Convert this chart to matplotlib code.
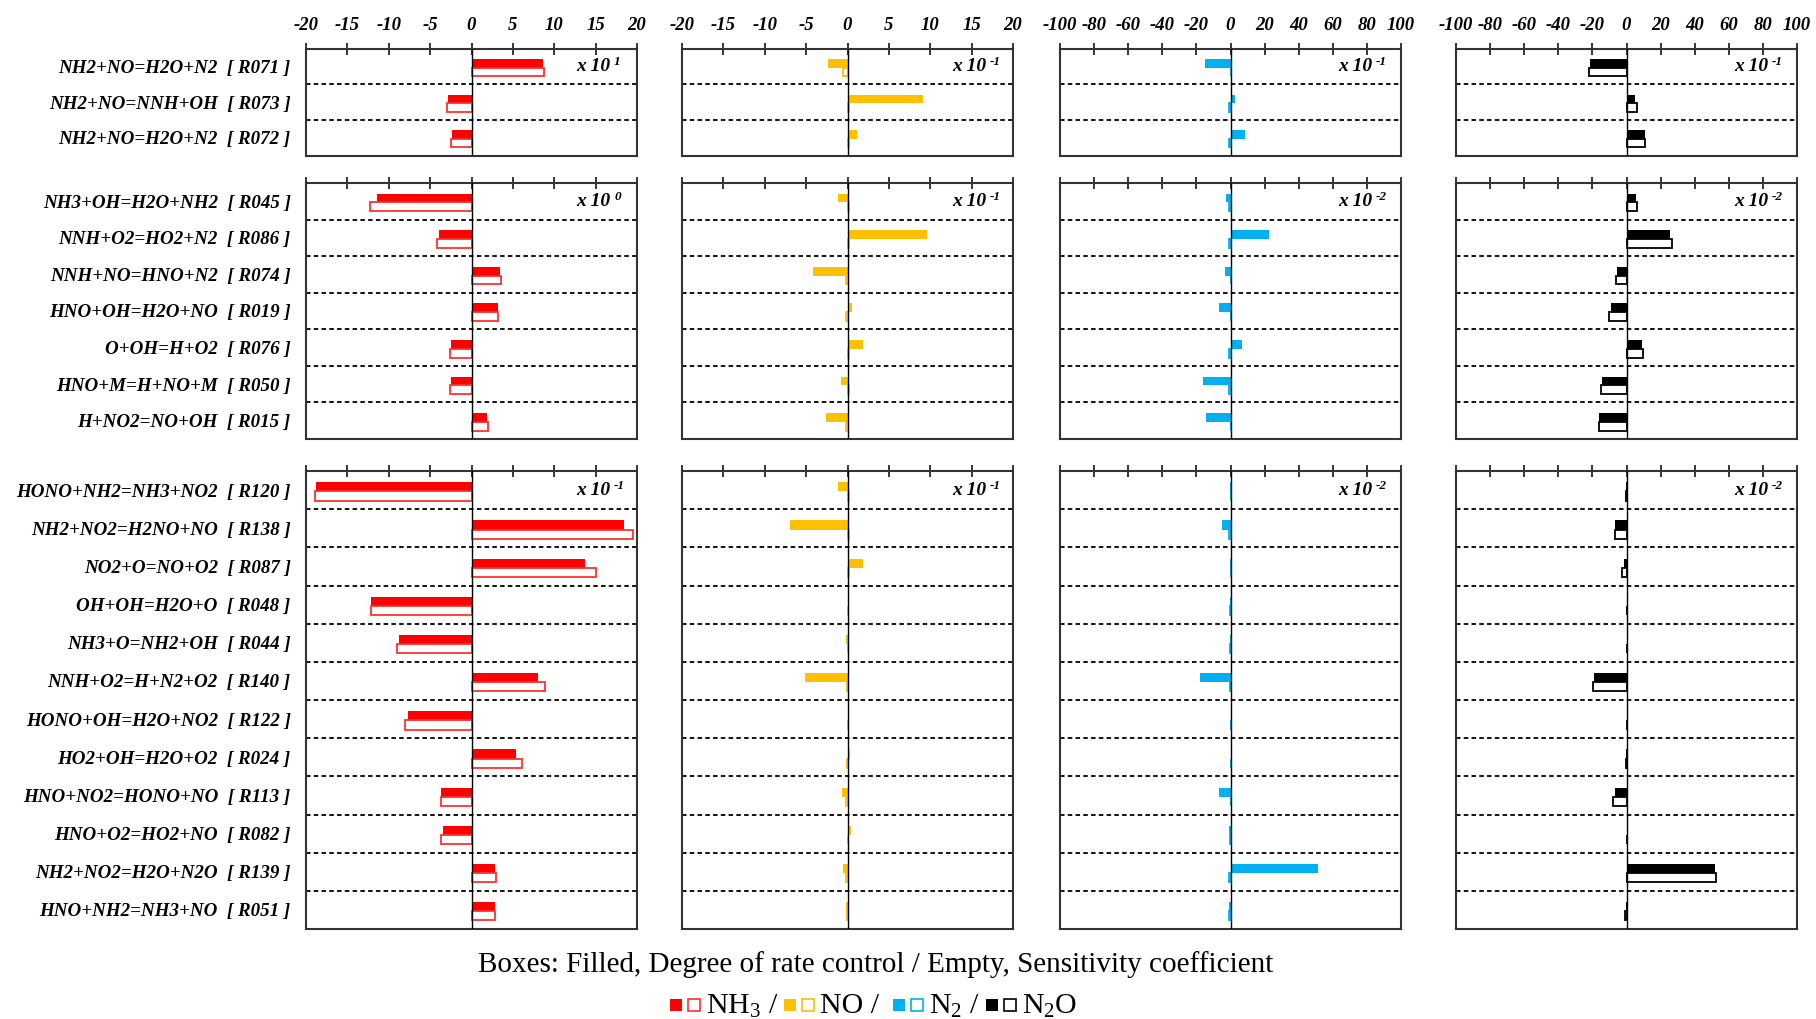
import numpy as np
import matplotlib
matplotlib.use('Agg')
import matplotlib.pyplot as plt
from matplotlib.patches import Rectangle

plt.rcParams['font.family'] = 'Liberation Serif'
plt.rcParams['axes.unicode_minus'] = False
plt.rcParams['mathtext.fontset'] = 'custom'
plt.rcParams['mathtext.rm'] = 'Liberation Serif'
plt.rcParams['mathtext.it'] = 'Liberation Serif:italic'
plt.rcParams['mathtext.bf'] = 'Liberation Serif:bold:italic'

# reactions, one list per block (top to bottom)
rxn_g1 = ['NH2+NO=H2O+N2  [ R071 ]', 'NH2+NO=NNH+OH  [ R073 ]', 'NH2+NO=H2O+N2  [ R072 ]']
rxn_g2 = ['NH3+OH=H2O+NH2  [ R045 ]', 'NNH+O2=HO2+N2  [ R086 ]', 'NNH+NO=HNO+N2  [ R074 ]',
          'HNO+OH=H2O+NO  [ R019 ]', 'O+OH=H+O2  [ R076 ]', 'HNO+M=H+NO+M  [ R050 ]',
          'H+NO2=NO+OH  [ R015 ]']
rxn_g3 = ['HONO+NH2=NH3+NO2  [ R120 ]', 'NH2+NO2=H2NO+NO  [ R138 ]', 'NO2+O=NO+O2  [ R087 ]',
          'OH+OH=H2O+O  [ R048 ]', 'NH3+O=NH2+OH  [ R044 ]', 'NNH+O2=H+N2+O2  [ R140 ]',
          'HONO+OH=H2O+NO2  [ R122 ]', 'HO2+OH=H2O+O2  [ R024 ]', 'HNO+NO2=HONO+NO  [ R113 ]',
          'HNO+O2=HO2+NO  [ R082 ]', 'NH2+NO2=H2O+N2O  [ R139 ]', 'HNO+NH2=NH3+NO  [ R051 ]']
reactions = [rxn_g1, rxn_g2, rxn_g3]

# degree of rate control (filled) and sensitivity coefficient (empty), scaled by 10^exp
nh3_drc = [[8.7, -2.8, -2.35],
           [-11.4, -3.9, 3.4, 3.2, -2.5, -2.5, 1.9],
           [-18.8, 18.4, 13.7, -12.1, -8.8, 8.0, -7.7, 5.4, -3.7, -3.4, 2.9, 2.9]]
nh3_sens = [[8.8, -3.0, -2.5],
            [-12.3, -4.2, 3.6, 3.2, -2.65, -2.65, 2.0],
            [-18.9, 19.5, 15.0, -12.2, -9.0, 8.9, -8.0, 6.1, -3.7, -3.7, 3.0, 2.9]]
no_drc = [[-2.3, 9.1, 1.2],
          [-1.2, 9.6, -4.2, 0.5, 1.9, -0.8, -2.6],
          [-1.1, -6.9, 1.9, 0.15, -0.2, -5.1, 0.15, 0.35, -0.7, 0.45, -0.5, -0.2]]
no_sens = [[-0.5, 0.15, 0.2],
           [0.15, 0.15, -0.15, -0.15, 0.15, 0.15, -0.15],
           [0.15, 0.15, 0.15, 0.1, 0.1, -0.1, 0.05, -0.1, -0.15, 0.1, -0.15, -0.1]]
n2_drc = [[-15.0, 2.8, 8.7],
          [-2.5, 22.8, -3.5, -6.6, 6.7, -16.3, -14.2],
          [-0.5, -4.9, -0.5, -0.4, -0.4, -17.6, 0.4, 0.4, -7.0, -0.6, 51.5, -0.6]]
n2_sens = [[0.3, -0.8, -0.8],
           [-0.8, -0.8, 0.5, 0.5, -0.8, -0.8, 0.5],
           [0.3, -0.8, 0.3, -0.5, -0.5, -0.5, 0.3, 0.3, 0.3, -0.5, -0.8, -0.8]]
n2o_drc = [[-21.3, 5.1, 10.7],
           [5.4, 25.8, -5.4, -9.3, 8.8, -14.2, -16.2],
           [-0.5, -6.9, -1.5, 0.3, 0.3, -18.8, 0.3, -0.3, -6.9, 0.3, 51.8, -0.5]]
n2o_sens = [[-22.0, 6.0, 10.7],
            [6.0, 26.5, -6.3, -10.2, 9.4, -14.8, -16.2],
            [-0.5, -6.9, -2.5, 0.3, 0.3, -19.6, 0.3, -0.3, -7.7, 0.3, 52.4, -0.8]]

exp_nh3 = [1, 0, -1]
exp_no = [-1, -1, -1]
exp_n2 = [-1, -2, -2]
exp_n2o = [-1, -2, -2]

species = ['NH$_3$', 'NO', 'N$_2$', 'N$_2$O']
colors = ['#FF0000', '#FFC000', '#00B0F0', '#000000']
edges = ['#FF3030', '#FFC000', '#00B0F0', '#000000']
drc_all = [nh3_drc, no_drc, n2_drc, n2o_drc]
sens_all = [nh3_sens, no_sens, n2_sens, n2o_sens]
exp_all = [exp_nh3, exp_no, exp_n2, exp_n2o]
xlims = [20, 20, 100, 100]
xsteps = [5, 5, 20, 20]

W, H = 1816, 1019
fig = plt.figure(figsize=(W / 100, H / 100), dpi=100)

col_px = [(306, 331), (682, 331), (1060, 341), (1456, 341)]
grp_px = [(48.6, 155.5), (183, 439), (471, 929)]

bw = 0.24
shift = 0.033
for g, (top, bot) in enumerate(grp_px):
    labels = reactions[g]
    n = len(labels)
    y = np.arange(n)
    for c, (left, width) in enumerate(col_px):
        ax = fig.add_axes([left / W, 1 - bot / H, width / W, (bot - top) / H])
        lim = xlims[c]
        ax.set_xlim(-lim, lim)
        ax.set_ylim(n - 0.5, -0.5)
        ax.barh(y + shift - bw / 2, drc_all[c][g], height=bw, color=colors[c], zorder=2)
        ax.barh(y + shift + bw / 2, sens_all[c][g], height=bw, facecolor='white',
                edgecolor=edges[c], linewidth=1.3, zorder=2)
        ax.axvline(0, color='black', lw=1.0, zorder=3)
        for k in range(1, n):
            ax.axhline(k - 0.5, color='black', lw=1.3, ls=(0, (2.5, 1.8)), zorder=1)
        for s in ax.spines.values():
            s.set_color('#333333')
            s.set_linewidth(1.5)

        ax.xaxis.tick_top()
        ticks = np.arange(-lim, lim + 1, xsteps[c])
        ax.set_xticks(ticks)
        ax.set_xticklabels([str(t) for t in ticks])
        ax.tick_params(axis='x', direction='inout', length=9, width=1.1,
                       top=True, bottom=False, labeltop=(g == 0), labelbottom=False,
                       labelsize=13.5, pad=6)
        for lab in ax.get_xticklabels():
            lab.set_fontstyle('italic')
            lab.set_fontweight('bold')

        if c == 0:
            ax.set_yticks(y)
            ax.set_yticklabels(labels, fontsize=13.7, fontstyle='italic', fontweight='bold')
            ax.tick_params(axis='y', length=0, pad=11)
        else:
            ax.set_yticks([])

        # scale factor in the corner of the first row
        t = ax.text(0.815, 0, 'x 10', transform=ax.get_yaxis_transform(),
                    ha='left', va='center', fontsize=14, fontstyle='italic', fontweight='bold')
        ax.annotate(str(exp_all[c][g]), xy=(1, 0.75), xycoords=t, xytext=(3, 0),
                    textcoords='offset points', ha='left', va='center',
                    fontsize=9.5, fontstyle='italic', fontweight='bold')

fig.text(0.482, 0.053, 'Boxes: Filled, Degree of rate control / Empty, Sensitivity coefficient',
         ha='center', va='center', fontsize=21)

# legend row: filled box, empty box, species name
renderer = fig.canvas.get_renderer()
x = 670.0
yc = 1005.0
for i, (name, col, ec) in enumerate(zip(species, colors, edges)):
    fig.patches.append(Rectangle((x / W, 1 - (yc + 6) / H), 12 / W, 12 / H,
                                 transform=fig.transFigure, facecolor=col, edgecolor='none'))
    x += 18
    fig.patches.append(Rectangle((x / W, 1 - (yc + 6) / H), 12 / W, 12 / H,
                                 transform=fig.transFigure, facecolor='white', edgecolor=ec,
                                 linewidth=1.2))
    x += 18
    txt = name + (' / ' if i < len(species) - 1 else '')
    t = fig.text(x / W, 1 - (yc + 1) / H, txt, ha='left', va='center', fontsize=21.5)
    bb = t.get_window_extent(renderer)
    x += bb.width + 6

fig.savefig('out.png', dpi=100)
